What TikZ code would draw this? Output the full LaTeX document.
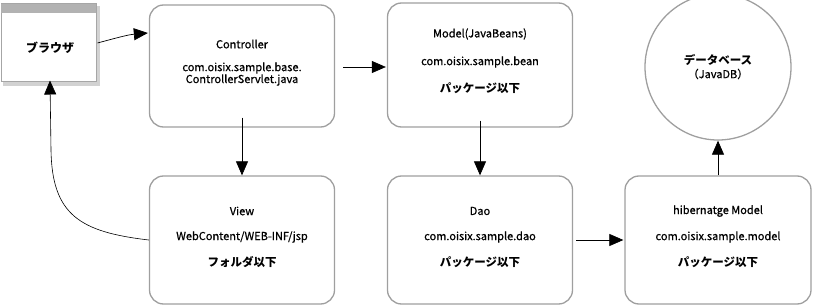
\documentclass[tikz,border=0pt]{standalone}
\usepackage{fontspec}
\setmainfont{Noto Sans CJK JP}
\newfontfamily\latf[FakeBold=0.8]{Noto Sans CJK JP}
\usetikzlibrary{arrows.meta}
\tikzset{
  sketchbox/.style={draw=gray!75, line width=1.3pt, rounded corners=14pt, fill=white},
  lbl/.style={font=\fontsize{11}{12}\selectfont\latf, inner sep=0pt, anchor=center},
  jlbl/.style={font=\fontsize{11.5}{12}\selectfont\bfseries, inner sep=0pt, anchor=center},
  conn/.style={line width=0.7pt, -{Triangle[length=14pt,width=12pt]}},
}
\begin{document}
\begin{tikzpicture}[x=1pt,y=-1pt]
\useasboundingbox (0,0) rectangle (813,307);
% browser
\fill[gray!35] (3,6) rectangle (100,86);
\node[draw=gray!70, line width=1pt, fill=white, minimum width=95pt, minimum height=78pt, inner sep=0pt] (br) at (48.5,43) {};
\fill[gray!60] (1,4) rectangle (96,13);
\node[jlbl, font=\fontsize{12}{12}\selectfont\bfseries] (brt) at (50,48) {ブラウザ};
% boxes
\node[sketchbox, minimum width=185pt, minimum height=122pt] (ctl) at (242,66) {};
\node[sketchbox, minimum width=185pt, minimum height=124pt] (mdl) at (480,65) {};
\node[draw=gray!75, line width=1.3pt, circle, minimum size=146pt, inner sep=0pt] (db) at (718,67) {};
\node[sketchbox, minimum width=185pt, minimum height=128pt] (view) at (242,240) {};
\node[sketchbox, minimum width=185pt, minimum height=128pt] (dao) at (480,240) {};
\node[sketchbox, minimum width=186pt, minimum height=128pt] (hib) at (718,240) {};
% texts
\node[lbl] (t1) at (242,44) {Controller};
\node[lbl] (t2) at (242,68) {com.oisix.sample.base.};
\node[lbl] (t3) at (242,80) {ControllerServlet.java};
\node[lbl] (t4) at (480,34) {Model(JavaBeans)};
\node[lbl] (t5) at (480,62) {com.oisix.sample.bean};
\node[jlbl] (t6) at (480,88) {パッケージ以下};
\node[jlbl] (t7) at (718,60) {データベース};
\node[lbl] (t8) at (718,74) {（JavaDB）};
\node[lbl] (t9) at (242,211) {View};
\node[lbl] (t10) at (242,237) {WebContent/WEB-INF/jsp};
\node[jlbl] (t11) at (242,262) {フォルダ以下};
\node[lbl] (t12) at (480,211) {Dao};
\node[lbl] (t13) at (480,237) {com.oisix.sample.dao};
\node[jlbl] (t14) at (480,262) {パッケージ以下};
\node[lbl] (t15) at (718,211) {hibernatge Model};
\node[lbl] (t16) at (718,237) {com.oisix.sample.model};
\node[jlbl] (t17) at (718,262) {パッケージ以下};
% connectors
\draw[conn] ([xshift=1pt]br.east |- 0,43) to[out=15,in=185] ([xshift=-1pt]ctl.west |- 0,33);
\draw[conn] ([xshift=8pt]ctl.east |- 0,67) -- ([xshift=-1pt]mdl.west |- 0,67);
\draw[conn] ([yshift=10pt]ctl.south) -- (view.north);
\draw[conn] ([yshift=7pt]mdl.south) -- (dao.north);
\draw[conn] ([xshift=3pt]dao.east |- 0,240) -- ([xshift=-1pt]hib.west |- 0,240);
\draw[conn] (hib.north) -- (db.south);
\draw[line width=0.6pt, -{Triangle[length=14pt,width=12pt]}] (view.west |- 0,240) .. controls (80,232) and (52,215) .. (51,150) -- ([yshift=2pt]br.south -| 50,0);
\end{tikzpicture}
\end{document}
